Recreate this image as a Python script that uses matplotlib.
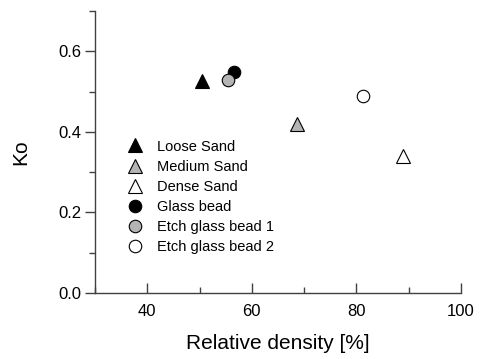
import matplotlib
matplotlib.use('Agg')
import matplotlib.pyplot as plt
from matplotlib.ticker import MultipleLocator

plt.rcParams['font.family'] = ['Liberation Sans', 'DejaVu Sans']

# data
labels = ['Loose Sand', 'Medium Sand', 'Dense Sand',
          'Glass bead', 'Etch glass bead 1', 'Etch glass bead 2']
dr = [50.5, 68.6, 88.9, 56.6, 55.4, 81.2]
ko = [0.526, 0.42, 0.34, 0.55, 0.529, 0.49]
markers = ['^', '^', '^', 'o', 'o', 'o']
faces = ['black', '#b4b4b4', 'white', 'black', '#b4b4b4', 'white']
sizes = [10, 10, 10, 9, 9, 9]

fig = plt.figure(figsize=(4.81, 3.59), dpi=100)
ax = fig.add_axes([0.1975, 0.184, 0.7605, 0.785])

for i in range(len(labels)):
    ax.plot(dr[i], ko[i], linestyle='none', marker=markers[i], ms=sizes[i],
            mfc=faces[i], mec='black', mew=0.8, label=labels[i])

ax.set_xlim(30, 100)
ax.set_ylim(0, 0.7)
ax.set_xticks([40, 60, 80, 100])
ax.set_yticks([0.0, 0.2, 0.4, 0.6])
ax.set_yticklabels(['0.0', '0.2', '0.4', '0.6'])
ax.xaxis.set_minor_locator(MultipleLocator(10))
ax.yaxis.set_minor_locator(MultipleLocator(0.1))
ax.tick_params(axis='x', which='major', direction='in', length=7, width=1, labelsize=12, pad=8, color='#404040')
ax.tick_params(axis='x', which='minor', direction='in', length=4, width=1, color='#404040')
ax.tick_params(axis='y', which='major', direction='out', length=7, width=1, labelsize=12, pad=3, color='#404040')
ax.tick_params(axis='y', which='minor', direction='out', length=4, width=1, color='#404040')

for s in ['top', 'right']:
    ax.spines[s].set_visible(False)
for s in ['left', 'bottom']:
    ax.spines[s].set_color('#404040')
    ax.spines[s].set_linewidth(1)

ax.set_xlabel('Relative density [%]', fontsize=15, labelpad=11)
ax.set_ylabel('Ko', fontsize=15, labelpad=20)

ax.legend(loc='upper left', bbox_to_anchor=(0.065, 0.57), frameon=False,
          fontsize=10.5, handletextpad=0.9, labelspacing=0.42, borderpad=0,
          handlelength=1.2)

fig.savefig('out.png', dpi=100)
